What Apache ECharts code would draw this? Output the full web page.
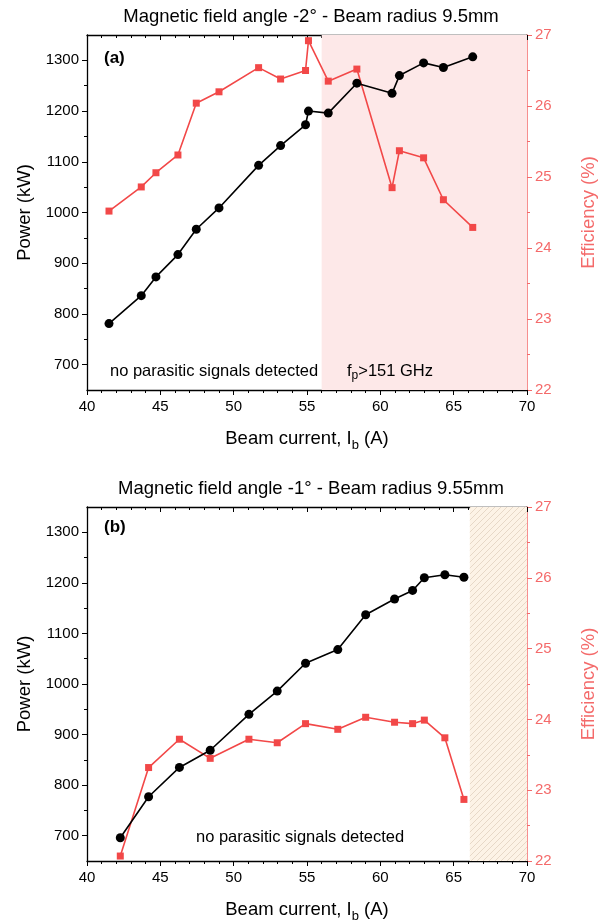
<!DOCTYPE html>
<html><head><meta charset="utf-8">
<script src="https://cdn.jsdelivr.net/npm/echarts@6/dist/echarts.min.js"></script>
<style>html,body{margin:0;padding:0;background:#fff}#c{width:613px;height:924px}</style>
</head><body><div id="c"></div>
<script>
// ---- data ----
const currentA = [41.5,43.7,44.7,46.2,47.45,49.0,51.7,53.2,54.9,55.1,56.45,58.4,60.8,61.3,62.95,64.3,66.3];
const powerA   = [781,836,873,917,967,1009,1093,1132,1173,1200,1196,1255,1235,1270,1295,1286,1307];
const effA     = [24.52,24.86,25.06,25.31,26.04,26.2,26.54,26.38,26.5,26.92,26.35,26.52,24.85,25.37,25.27,24.68,24.29];
const currentB = [42.27,44.2,46.3,48.4,51.04,52.97,54.9,57.1,59.0,60.97,62.2,63.0,64.4,65.7];
const powerB   = [696,777,835,869,940,986,1041,1068,1137,1168,1185,1210,1216,1211];
const effB     = [22.07,23.32,23.72,23.45,23.72,23.67,23.94,23.86,24.03,23.96,23.94,23.99,23.74,22.87];
const regionA  = [56, 70];
const regionB  = [66.1, 70];
const powerMajor = [700,800,900,1000,1100,1200,1300];
const powerMinor = [750,850,950,1050,1150,1250];
const titleA = 'Magnetic field angle -2\u00b0 - Beam radius 9.5mm';
const titleB = 'Magnetic field angle -1\u00b0 - Beam radius 9.55mm';

const FONT = 'Liberation Sans, Arial, sans-serif';
const RED = '#f24848';
const RED_AX = '#f46a6a';

// hatch pattern
const pc = document.createElement('canvas');
pc.width = 6; pc.height = 6;
const g = pc.getContext('2d');
g.fillStyle = '#fdf3e6'; g.fillRect(0,0,6,6);
g.strokeStyle = '#dccbb9'; g.lineWidth = 0.7;
g.beginPath();
g.moveTo(-1,7); g.lineTo(7,-1);
g.moveTo(-1,1); g.lineTo(1,-1);
g.moveTo(5,7); g.lineTo(7,5);
g.stroke();

const pair = (xs, ys) => xs.map((x,i)=>[x, ys[i]]);
const plain = v => String(v);

const grids = [
  {left:87, top:35, width:440, height:355},
  {left:87, top:507, width:440, height:354}
];

const xAxes = [], yAxes = [];
[0,1].forEach(gi=>{
  xAxes.push({type:'value', gridIndex:gi, position:'bottom', min:40, max:70, interval:5,
    name:'{n|Beam current, I}{s|b}{n| (A)}', nameLocation:'middle', nameGap:36,
    nameTextStyle:{rich:{n:{fontSize:18.5, fontFamily:FONT, color:'#000'}, s:{fontSize:13, fontFamily:FONT, color:'#000', padding:[13,0,0,0]}}},
    axisLine:{lineStyle:{color:'#000', width:1.3}},
    axisTick:{length:5, lineStyle:{color:'#000'}},
    minorTick:{show:true, splitNumber:5, length:3, lineStyle:{color:'#000'}},
    axisLabel:{fontSize:15, fontFamily:FONT, color:'#000', margin:9, formatter:plain},
    splitLine:{show:false}});
  xAxes.push({type:'value', gridIndex:gi, position:'top', min:40, max:70, interval:5,
    axisLine:{lineStyle:{color:'#000', width:1.3}},
    axisTick:{inside:true, length:5, lineStyle:{color:'#000'}},
    minorTick:{show:true, splitNumber:5, length:3, lineStyle:{color:'#000'}},
    axisLabel:{show:false}, splitLine:{show:false}});
  yAxes.push({type:'value', gridIndex:gi, position:'left', min:650, max:1350, interval:50,
    name:'Power (kW)', nameLocation:'middle', nameGap:49, nameRotate:90,
    nameTextStyle:{fontSize:18.5, fontFamily:FONT, color:'#000'},
    axisLine:{show:true, lineStyle:{color:'#000', width:1.3}},
    axisTick:{length:5, customValues:powerMajor, lineStyle:{color:'#000'}},
    axisLabel:{fontSize:15, fontFamily:FONT, color:'#000', margin:8, customValues:powerMajor, formatter:plain},
    splitLine:{show:false}});
  yAxes.push({type:'value', gridIndex:gi, position:'left', min:650, max:1350, interval:50,
    axisLine:{show:false},
    axisTick:{length:3, customValues:powerMinor, lineStyle:{color:'#000'}},
    axisLabel:{show:false}, splitLine:{show:false}});
  yAxes.push({type:'value', gridIndex:gi, position:'right', min:22, max:27, interval:1,
    name:'Efficiency (%)', nameLocation:'middle', nameGap:52, nameRotate:90,
    nameTextStyle:{fontSize:18.5, fontFamily:FONT, color:RED_AX},
    axisLine:{show:true, lineStyle:{color:RED_AX, width:1.5}},
    axisTick:{length:5, lineStyle:{color:RED_AX}},
    minorTick:{show:true, splitNumber:2, length:3, lineStyle:{color:RED_AX}},
    axisLabel:{fontSize:15, fontFamily:FONT, color:RED_AX, margin:8, formatter:plain},
    splitLine:{show:false}});
});

function lineSeries(xi, yi, data, color, symbol, size){
  return {type:'line', xAxisIndex:xi, yAxisIndex:yi, data:data, z:5,
    symbol:symbol, symbolSize:size, showSymbol:true,
    lineStyle:{color:color, width:1.6}, itemStyle:{color:color}, animation:false};
}

const series = [
  {type:'line', xAxisIndex:0, yAxisIndex:0, data:[], z:1, silent:true, animation:false,
    markArea:{silent:true, itemStyle:{color:'#fde8e8'}, data:[[{xAxis:regionA[0]},{xAxis:regionA[1]}]]}},
  {type:'line', xAxisIndex:2, yAxisIndex:3, data:[], z:1, silent:true, animation:false,
    markArea:{silent:true, itemStyle:{color:{image:pc, repeat:'repeat'}}, data:[[{xAxis:regionB[0]},{xAxis:regionB[1]}]]}},
  lineSeries(0, 2, pair(currentA, effA), RED, 'rect', 7),
  lineSeries(0, 0, pair(currentA, powerA), '#000', 'circle', 9),
  lineSeries(2, 5, pair(currentB, effB), RED, 'rect', 7),
  lineSeries(2, 3, pair(currentB, powerB), '#000', 'circle', 9)
];

const txt = (x, y, text, extra) => ({type:'text', x:x, y:y, z:50,
  style:Object.assign({text:text, fontSize:16.5, fontFamily:FONT, fill:'#000', verticalAlign:'middle'}, extra||{})});

const option = {
  animation:false,
  grid:grids, xAxis:xAxes, yAxis:yAxes, series:series,
  graphic:[
    txt(311, 17, titleA, {align:'center', fontSize:18.5}),
    txt(311, 489, titleB, {align:'center', fontSize:18.5}),
    txt(104, 58, '(a)', {fontWeight:'bold', fontSize:17}),
    txt(104, 527, '(b)', {fontWeight:'bold', fontSize:17}),
    txt(110, 371, 'no parasitic signals detected'),
    txt(196, 837, 'no parasitic signals detected'),
    {type:'text', x:347, y:371, z:50, style:{text:'{n|f}{s|p}{n|>151 GHz}', verticalAlign:'middle',
      rich:{n:{fontSize:16.5, fontFamily:FONT, fill:'#000'}, s:{fontSize:12, fontFamily:FONT, fill:'#000', padding:[10,0,0,0]}}}}
  ]
};
echarts.init(document.getElementById('c'), null, {renderer:'canvas'}).setOption(option);
</script></body></html>
